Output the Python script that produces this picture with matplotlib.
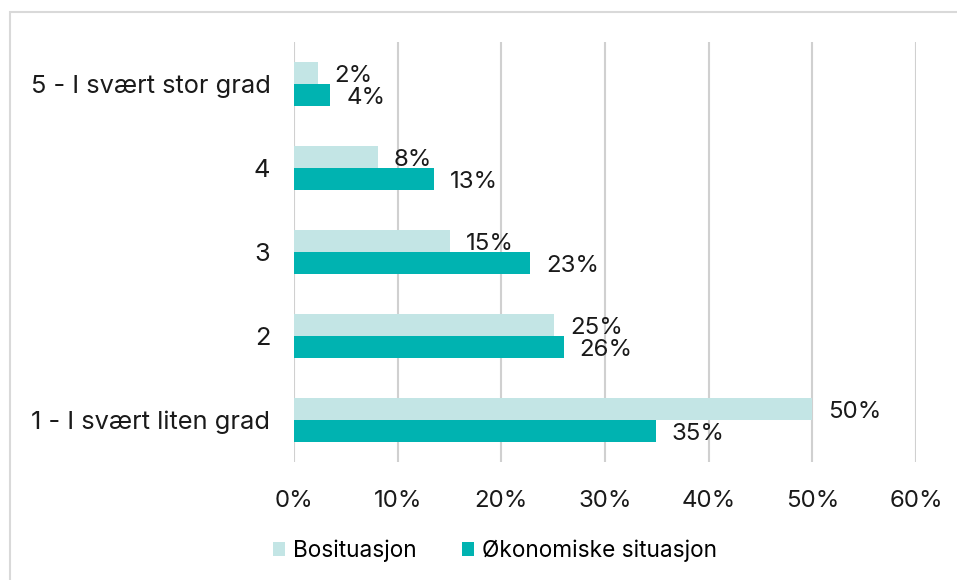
import matplotlib.pyplot as plt
from matplotlib.patches import Rectangle
import numpy as np

plt.rcParams["font.family"] = ["Inter", "DejaVu Sans"]

categories = ["1 - I svært liten grad", "2", "3", "4", "5 - I svært stor grad"]
bosituasjon = [50.0, 25.1, 15.0, 8.1, 2.3]
okonomi = [34.9, 26.0, 22.8, 13.5, 3.5]
bo_labels = ["50%", "25%", "15%", "8%", "2%"]
ok_labels = ["35%", "26%", "23%", "13%", "4%"]
xticks = [0, 10, 20, 30, 40, 50, 60]

COL_BO = "#c3e5e5"
COL_OK = "#00b3b1"
GRID = "#d0d0d0"
TXT = "#1a1a1a"

W, H = 957, 580
fig = plt.figure(figsize=(W / 100, H / 100), dpi=100)

# light outer frame
fig.patches.append(
    Rectangle((10 / W, -0.1), 1.2, 1.1 - 12 / H, transform=fig.transFigure,
              fill=False, edgecolor="#d9d9d9", lw=1.5)
)

ax = fig.add_axes([294 / W, 1 - 462 / H, 622 / W, 420 / H])
y = np.arange(len(categories))
h = 0.256
ax.barh(y + h / 2, bosituasjon, height=h, color=COL_BO, label="Bosituasjon", zorder=2)
ax.barh(y - h / 2, okonomi, height=h, color=COL_OK, label="Økonomiske situasjon", zorder=2)

for yi, v, lab in zip(y, bosituasjon, bo_labels):
    ax.annotate(lab, (v, yi + h / 2), xytext=(16, -3), textcoords="offset pixels",
                ha="left", va="center", fontsize=17.3, color=TXT)
for yi, v, lab in zip(y, okonomi, ok_labels):
    ax.annotate(lab, (v, yi - h / 2), xytext=(16, -3), textcoords="offset pixels",
                ha="left", va="center", fontsize=17.3, color=TXT)

ax.set_xlim(0, 60)
ax.set_ylim(-0.5, 4.5)
ax.set_xticks(xticks)
ax.set_xticklabels([f"{t}%" for t in xticks])
ax.set_yticks(y)
ax.set_yticklabels(categories)
ax.tick_params(axis="x", length=0, pad=20, labelsize=17.3, colors=TXT)
ax.tick_params(axis="y", length=0, pad=17, labelsize=18.3, colors=TXT)
for s in ax.spines.values():
    s.set_visible(False)
ax.grid(axis="x", color=GRID, lw=1.5, zorder=0)
ax.set_axisbelow(True)

fig.legend(loc="center", bbox_to_anchor=(495 / W, 1 - 551 / H), ncol=2, frameon=False,
           fontsize=16.3, handlelength=0.55, handleheight=0.55, handletextpad=0.35,
           columnspacing=2.0)

fig.savefig("out.png", dpi=100)
